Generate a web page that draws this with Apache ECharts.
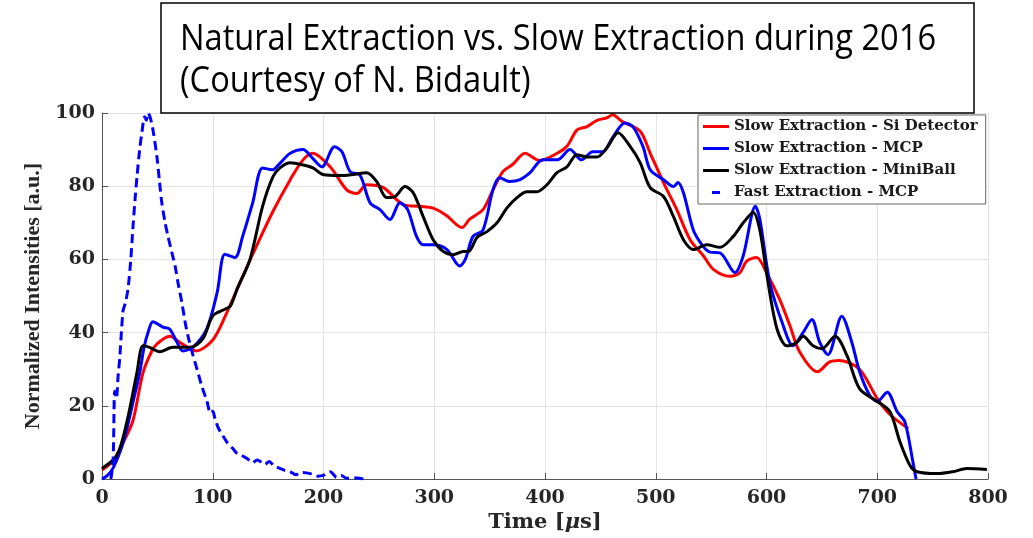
<!DOCTYPE html>
<html>
<head>
<meta charset="utf-8">
<script src="https://cdn.jsdelivr.net/npm/echarts@6/dist/echarts.min.js"></script>
<style>
  html, body { margin: 0; padding: 0; background: #fff; }
  #chart { width: 1033px; height: 538px; }
</style>
</head>
<body>
<div id="chart"></div>
<script>
// time axis [µs] and normalized intensities [a.u.]
const siTime = [0, 10, 20, 28, 37, 45, 50, 61, 72, 85, 100, 112, 125, 140, 155, 170, 181, 190, 206, 221, 230, 239, 254, 272, 287, 299, 311, 325, 332, 344, 353, 362, 371, 382, 395, 411, 420, 429, 438, 447, 456, 461, 470, 486, 495, 507, 519, 531, 543, 552, 567, 576, 582, 591, 600, 612, 621, 630, 646, 657, 666, 684, 700, 712, 728]
const siVals = [2.5, 5, 10.5, 16, 29, 35, 37, 39, 37, 35, 38, 45, 54, 64, 73.5, 81.8, 87, 89, 85.3, 79, 78, 80.4, 79.6, 75, 74.5, 74, 72, 68.7, 71, 73.6, 79, 84, 86, 89, 87, 89, 91, 95.4, 96.3, 98, 98.7, 99.5, 97.6, 95, 89, 81, 73.6, 65.4, 61, 57.3, 55.4, 56.4, 59.5, 60.5, 56.4, 49, 42, 34.7, 29.3, 32, 32.4, 30, 22, 17.5, 13.8]

const mcpTime = [0, 5, 10, 17, 22.5, 28, 34, 38, 41.5, 46, 55, 61, 67.5, 73, 82, 94.5, 104, 111, 120, 127, 136, 145, 154, 161, 170, 181.5, 190, 198.6, 210, 216.7, 224, 233, 242, 251, 260, 269, 276, 284, 290, 299, 311.5, 323, 328, 335, 344, 353, 359, 368, 377.5, 386.5, 398, 411, 422.6, 433, 443, 452, 461.4, 472, 479.5, 488.5, 495, 507, 516, 520, 525, 534, 543, 549, 558, 571.5, 579, 590, 594, 603, 615, 624, 633, 641, 648, 655.5, 668, 677, 684, 693, 700, 709, 718, 725, 732, 735]
const mcpVals = [0, 1, 3, 8, 13.8, 21, 29, 36, 40, 43, 41.5, 41, 37.5, 35, 36, 41, 51, 61.4, 60.5, 66.3, 75.4, 85, 84.5, 86.4, 89, 90, 87.7, 85.3, 90.8, 89.4, 84, 83, 75.5, 73.6, 70.9, 75.5, 73.6, 66.3, 64, 64, 62.7, 58.2, 60, 66.3, 68, 79, 82.3, 81.3, 81.8, 83.7, 87.2, 87.2, 90, 87.2, 89.4, 89.4, 93.5, 97.3, 96.2, 90.8, 84.5, 81.8, 79.9, 81, 78.2, 68, 63.5, 62, 61.8, 56.4, 61, 74.5, 71, 53.7, 42, 36.4, 40, 43.6, 37.4, 34, 44.5, 37.4, 29.4, 23, 21.2, 23.7, 18.4, 15.6, 5, 0]

const mbTime = [0, 13.5, 22.5, 31.5, 37, 43, 52, 64, 79.5, 91, 100, 111, 116, 122, 133.6, 145, 154.4, 160.7, 170, 181.5, 190.5, 199.5, 215, 226.6, 239, 248, 257, 264.6, 273.6, 281, 290, 299, 308, 317, 326, 331, 338.6, 347.6, 356.6, 365.7, 374.7, 383.7, 392.8, 401.8, 410.8, 419.8, 428.8, 437.9, 447, 456, 466, 477, 486, 495, 507, 516, 525, 534, 546, 558, 570, 579, 588, 594, 600.5, 609.5, 618.5, 627.5, 633, 642, 650, 662, 672.7, 684, 700, 711.5, 720.5, 729.6, 736, 754, 768, 781, 799]
const mbVals = [2.9, 6.5, 15.7, 29, 36.4, 36, 34.8, 36, 36, 38.3, 44.6, 46.4, 47.3, 51.9, 60, 74.5, 82.6, 85, 86.4, 85.8, 85, 83.2, 82.9, 83.2, 83.7, 81.3, 76.9, 77.2, 79.9, 78.2, 71.7, 65.4, 62.2, 61.3, 62.2, 62.2, 66, 67.6, 70, 74.1, 76.9, 78.5, 78.5, 80.4, 83.7, 85.3, 88.6, 88, 88, 90.5, 94.6, 90.8, 86.4, 79.6, 77.2, 71.7, 65.4, 62.7, 64, 63.3, 66.3, 70, 72.8, 68, 55.4, 41, 36.4, 37.4, 39, 36.4, 35.6, 39, 33.7, 24.7, 21.2, 18.4, 10.2, 3.7, 2, 1.5, 2, 2.9, 2.6]

const fastTime = [8, 10, 11.5, 13, 14.5, 16, 19, 21, 23.5, 26, 28, 30, 31.6, 34, 36, 38.5, 40, 41.5, 43.3, 46, 49.6, 52, 54, 57, 59.6, 63, 66, 69, 72, 75, 77.7, 82, 85.8, 90, 94.8, 98, 100, 102, 105, 109, 113, 118, 122, 126, 131, 136, 140, 143, 147, 151, 155, 160, 165, 170, 175, 180, 188, 195, 200, 206, 212, 216, 221, 230, 236]
const fastVals = [0, 5, 24, 22, 28, 33, 46, 48, 52, 60, 69, 77, 82.6, 90, 94.6, 99, 98, 100, 99, 95.4, 88, 81, 75.5, 70, 66.3, 62, 58.2, 53, 48.4, 43, 39, 34, 30, 25.5, 21.2, 18, 18.5, 16.5, 14, 11.9, 10, 8.4, 7, 6.5, 5.6, 4.5, 5.2, 4.8, 4, 4.8, 3.7, 3, 2.4, 2, 1.2, 1.8, 1.5, 0.8, 1, 2, 0.5, 1, 0.2, 0.3, 0]

const xTicks = [0, 800, 100]   // min, max, step
const yTicks = [0, 100, 20]

const zip = (t, v) => t.map((x, i) => [x, v[i]])

const serifBold = { fontFamily: 'DejaVu Serif', fontWeight: 'bold', color: '#262626' }

const myChart = echarts.init(document.getElementById('chart'))

const lineSeries = (name, t, v, color, dash) => ({
  name: name,
  type: 'line',
  data: zip(t, v),
  showSymbol: false,
  symbol: 'none',
  smooth: 0.3,
  itemStyle: { color: color },
  lineStyle: { color: color, width: 3, type: dash ? [9, 5] : 'solid' }
})

myChart.setOption({
  backgroundColor: '#fff',
  animation: false,
  grid: { left: 102, right: 45, top: 113, bottom: 57 },
  legend: {
    orient: 'vertical',
    left: 698,
    top: 115,
    padding: [4, 8, 4, 5],
    itemGap: 7,
    itemWidth: 26,
    itemHeight: 3,
    backgroundColor: '#fff',
    borderColor: '#666',
    borderWidth: 1,
    z: 20,
    textStyle: { fontFamily: 'DejaVu Serif', fontWeight: 'bold', fontSize: 15, color: '#1a1a1a' },
    data: [
      { name: 'Slow Extraction - Si Detector', icon: 'rect' },
      { name: 'Slow Extraction - MCP', icon: 'rect' },
      { name: 'Slow Extraction - MiniBall', icon: 'rect' },
      { name: 'Fast Extraction - MCP', icon: 'path://M0,0H0.01V3H0Z M9,0H17V3H9Z M25.99,0H26V3H25.99Z' }
    ]
  },
  graphic: [
    {
      type: 'rect',
      z: 100,
      shape: { x: 161, y: 3, width: 813, height: 110 },
      style: { fill: '#fff', stroke: '#000', lineWidth: 1.5 }
    },
    {
      type: 'text',
      z: 101,
      x: 180,
      y: 19,
      scaleX: 0.905,
      style: {
        text: 'Natural Extraction vs. Slow Extraction during 2016\n(Courtesy of N. Bidault)',
        fontFamily: 'Open Sans',
        fontSize: 36,
        lineHeight: 42,
        fill: '#000'
      }
    }
  ],
  xAxis: {
    type: 'value',
    min: xTicks[0],
    max: xTicks[1],
    interval: xTicks[2],
    name: 'Time [{i|μ}s]',
    nameLocation: 'middle',
    nameGap: 32,
    nameTextStyle: Object.assign({ fontSize: 21, rich: { i: { fontFamily: 'DejaVu Serif', fontStyle: 'italic', fontWeight: 'bold', fontSize: 21, color: '#262626' } } }, serifBold),
    axisLine: { lineStyle: { color: '#555', width: 1 } },
    axisTick: { inside: true, length: 6, lineStyle: { color: '#555' } },
    axisLabel: Object.assign({ fontSize: 19, margin: 9 }, serifBold),
    splitLine: { show: true, lineStyle: { color: '#e3e3e3', width: 1 } }
  },
  yAxis: {
    type: 'value',
    min: yTicks[0],
    max: yTicks[1],
    interval: yTicks[2],
    name: 'Normalized Intensities [a.u.]',
    nameLocation: 'middle',
    nameGap: 55,
    nameTextStyle: { fontFamily: 'Liberation Serif', fontWeight: 'bold', fontSize: 22, color: '#262626' },
    axisLine: { show: true, lineStyle: { color: '#555', width: 1 } },
    axisTick: { show: true, inside: true, length: 6, lineStyle: { color: '#555' } },
    axisLabel: Object.assign({ fontSize: 19, margin: 7 }, serifBold),
    splitLine: { show: true, lineStyle: { color: '#e3e3e3', width: 1 } }
  },
  series: [
    lineSeries('Slow Extraction - Si Detector', siTime, siVals, '#ff0000', false),
    lineSeries('Slow Extraction - MCP', mcpTime, mcpVals, '#0000ff', false),
    lineSeries('Slow Extraction - MiniBall', mbTime, mbVals, '#000000', false),
    lineSeries('Fast Extraction - MCP', fastTime, fastVals, '#0000ff', true)
  ]
})
</script>
</body>
</html>
